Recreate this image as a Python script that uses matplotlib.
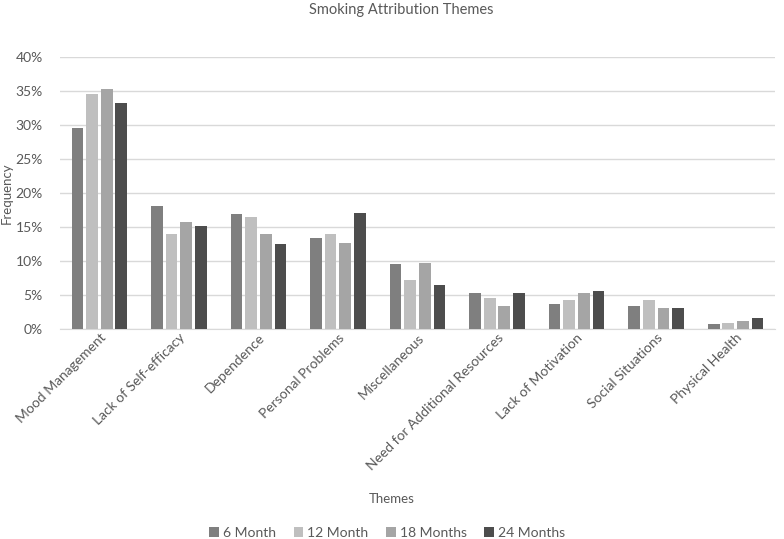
import matplotlib
matplotlib.use("Agg")
import matplotlib.pyplot as plt
import numpy as np
from matplotlib.ticker import PercentFormatter

plt.rcParams["font.family"] = ["Lato", "DejaVu Sans"]

themes = [
    "Mood Management", "Lack of Self-efficacy", "Dependence", "Personal Problems",
    "Miscellaneous", "Need for Additional Resources", "Lack of Motivation",
    "Social Situations", "Physical Health",
]
series_names = ["6 Month", "12 Month", "18 Months", "24 Months"]
month_6 = [29.5, 18.1, 16.9, 13.3, 9.5, 5.2, 3.6, 3.3, 0.7]
month_12 = [34.5, 13.9, 16.5, 14.0, 7.2, 4.6, 4.2, 4.3, 0.9]
month_18 = [35.3, 15.7, 14.0, 12.6, 9.7, 3.3, 5.3, 3.0, 1.1]
month_24 = [33.3, 15.2, 12.5, 17.1, 6.4, 5.3, 5.6, 3.1, 1.6]
colors = ["#7f7f7f", "#bfbfbf", "#a5a5a5", "#4d4d4d"]
TEXT = "#595959"

fig = plt.figure(figsize=(7.84, 5.39), dpi=100)
ax = fig.add_axes([0.076, 0.39, 0.913, 0.504])

x = np.arange(len(themes))
step = 0.184
width = 0.147
for i, (name, vals) in enumerate(zip(series_names, [month_6, month_12, month_18, month_24])):
    ax.bar(x + (i - 1.5) * step, vals, width=width, color=colors[i], label=name, zorder=3)

ax.set_xlim(-0.5, len(themes) - 0.5)
ax.set_ylim(0, 40)
ax.set_yticks(np.arange(0, 41, 5))
ax.yaxis.set_major_formatter(PercentFormatter(decimals=0))
ax.grid(axis="y", color="#d9d9d9", linewidth=1, zorder=0)
for s in ["top", "right", "left"]:
    ax.spines[s].set_visible(False)
ax.spines["bottom"].set_color("#d9d9d9")
ax.tick_params(axis="both", length=0, colors=TEXT, labelsize=10)
ax.tick_params(axis="y", pad=12)
ax.tick_params(axis="x", pad=2)
ax.set_xticks(x)
ax.set_xticklabels(themes, rotation=45, ha="right", rotation_mode="anchor")

fig.text(0.512, 0.982, "Smoking Attribution Themes", ha="center", va="center",
         color=TEXT, fontsize=10.5)
ax.set_ylabel("Frequency", color=TEXT, fontsize=9.5, labelpad=2)
fig.text(0.5, 0.075, "Themes", ha="center", va="center", color=TEXT, fontsize=9.5)

leg = fig.legend(loc="center", bbox_to_anchor=(0.494, 0.012), ncol=4, frameon=False,
                 fontsize=10, handlelength=0.7, handleheight=0.7, columnspacing=1.25,
                 handletextpad=0.3)
for t in leg.get_texts():
    t.set_color(TEXT)

fig.savefig("out.png", dpi=100, facecolor="white")
